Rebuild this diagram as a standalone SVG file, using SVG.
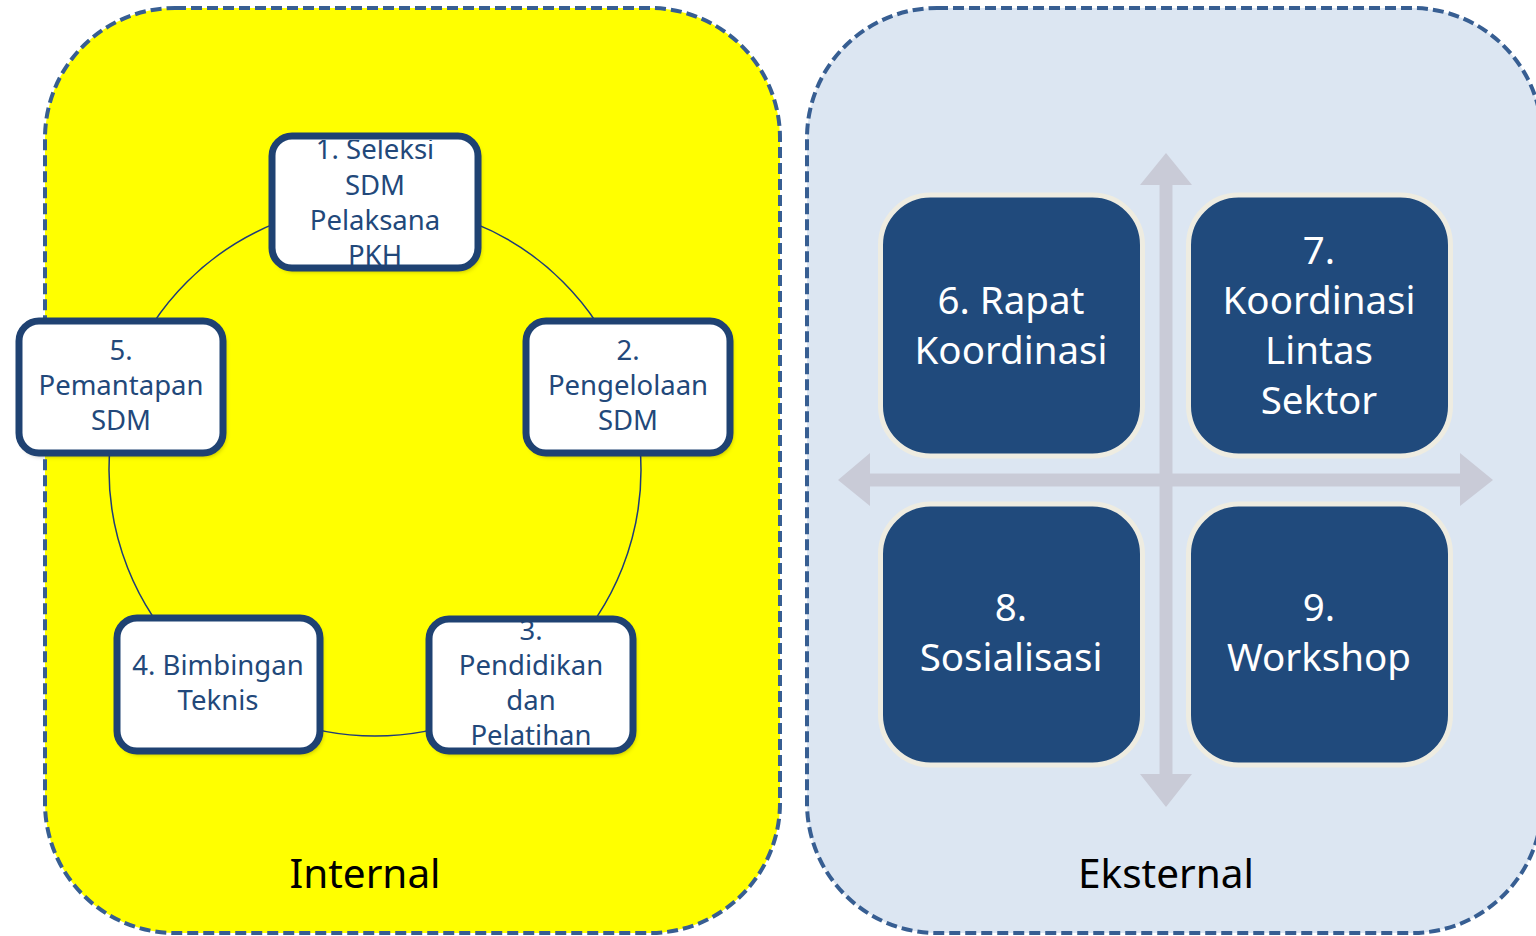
<svg xmlns="http://www.w3.org/2000/svg" width="1536" height="936" viewBox="0 0 1536 936">
  <defs>
    <filter id="shadow" x="-10%" y="-10%" width="125%" height="125%">
      <feDropShadow dx="2" dy="3" stdDeviation="2.5" flood-color="#000" flood-opacity="0.35"/>
    </filter>
    <clipPath id="c1"><rect x="275" y="140" width="200" height="128" rx="16"/></clipPath>
    <clipPath id="c3"><rect x="429" y="619" width="204" height="132" rx="16"/></clipPath>
  </defs>
  <style>
    .panel { stroke: #375E92; stroke-width: 4; stroke-dasharray: 11 5; }
    .node-bg { fill: #FFFFFF; }
    .node-border { fill: none; stroke: #1F4272; stroke-width: 7; }
    .ntext { font-family: "Noto Sans", "Open Sans", sans-serif; font-size: 27.5px; fill: #22487A; text-anchor: middle; }
    .sq { fill: #204A7C; stroke: #EEECE1; stroke-width: 5; }
    .stext { font-family: "Noto Sans", "Open Sans", sans-serif; font-size: 38.5px; fill: #FFFFFF; text-anchor: middle; }
    .label { font-family: "Noto Sans", "Open Sans", sans-serif; font-size: 40.5px; fill: #000000; text-anchor: middle; }
    .arrow { fill: #C9CBD7; }
  </style>

  <rect width="1536" height="936" fill="#FFFFFF"/>

  <g id="panel-internal">
    <rect class="panel" x="45" y="8" width="735" height="925" rx="130" fill="#FFFF00"/>
    <text class="label" x="365" y="888">Internal</text>
  </g>
  <g id="panel-eksternal">
    <rect class="panel" x="807" y="8" width="735" height="925" rx="130" fill="#DCE6F2"/>
    <text class="label" x="1166" y="888">Eksternal</text>
  </g>

  <g id="connectors">
    <circle cx="375" cy="470" r="266" fill="none" stroke="#1F3C78" stroke-width="1.5"/>
    <path class="arrow" d="M1166 153 L1192 185 L1172.5 185 L1172.5 774 L1192 774 L1166 807 L1140 774 L1159.5 774 L1159.5 185 L1140 185 Z"/>
    <path class="arrow" d="M838 480 L870 453 L870 473.5 L1460 473.5 L1460 453 L1493 480 L1460 506 L1460 486.5 L870 486.5 L870 506 Z"/>
  </g>

  <g id="node1">
    <rect class="node-bg" x="272" y="136" width="206" height="132" rx="20" filter="url(#shadow)"/>
    <g clip-path="url(#c1)">
      <text class="ntext" x="375" y="159">1. Seleksi</text>
      <text class="ntext" x="375" y="195">SDM</text>
      <text class="ntext" x="375" y="230">Pelaksana</text>
      <text class="ntext" x="375" y="265">PKH</text>
    </g>
    <rect class="node-border" x="272" y="136" width="206" height="132" rx="20"/>
  </g>

  <g id="node2">
    <rect class="node-bg" x="526" y="321" width="204" height="132" rx="20" filter="url(#shadow)"/>
    <text class="ntext" x="628" y="360">2.</text>
    <text class="ntext" x="628" y="395">Pengelolaan</text>
    <text class="ntext" x="628" y="430">SDM</text>
    <rect class="node-border" x="526" y="321" width="204" height="132" rx="20"/>
  </g>

  <g id="node3">
    <rect class="node-bg" x="429" y="619" width="204" height="132" rx="20" filter="url(#shadow)"/>
    <g clip-path="url(#c3)">
      <text class="ntext" x="531" y="640">3.</text>
      <text class="ntext" x="531" y="675">Pendidikan</text>
      <text class="ntext" x="531" y="710">dan</text>
      <text class="ntext" x="531" y="745">Pelatihan</text>
    </g>
    <rect class="node-border" x="429" y="619" width="204" height="132" rx="20"/>
  </g>

  <g id="node4">
    <rect class="node-bg" x="117" y="618" width="203" height="133" rx="20" filter="url(#shadow)"/>
    <text class="ntext" x="218" y="675">4. Bimbingan</text>
    <text class="ntext" x="218" y="710">Teknis</text>
    <rect class="node-border" x="117" y="618" width="203" height="133" rx="20"/>
  </g>

  <g id="node5">
    <rect class="node-bg" x="19" y="321" width="204" height="132" rx="20" filter="url(#shadow)"/>
    <text class="ntext" x="121" y="360">5.</text>
    <text class="ntext" x="121" y="395">Pemantapan</text>
    <text class="ntext" x="121" y="430">SDM</text>
    <rect class="node-border" x="19" y="321" width="204" height="132" rx="20"/>
  </g>

  <g id="node6">
    <rect class="sq" x="880.5" y="195" width="262" height="261" rx="50"/>
    <text class="stext" x="1011" y="314">6. Rapat</text>
    <text class="stext" x="1011" y="364">Koordinasi</text>
  </g>
  <g id="node7">
    <rect class="sq" x="1188.5" y="195" width="262" height="261" rx="50"/>
    <text class="stext" x="1319" y="264">7.</text>
    <text class="stext" x="1319" y="314">Koordinasi</text>
    <text class="stext" x="1319" y="364">Lintas</text>
    <text class="stext" x="1319" y="414">Sektor</text>
  </g>
  <g id="node8">
    <rect class="sq" x="880.5" y="504" width="262" height="261" rx="50"/>
    <text class="stext" x="1011" y="621">8.</text>
    <text class="stext" x="1011" y="671">Sosialisasi</text>
  </g>
  <g id="node9">
    <rect class="sq" x="1188.5" y="504" width="262" height="261" rx="50"/>
    <text class="stext" x="1319" y="621">9.</text>
    <text class="stext" x="1319" y="671">Workshop</text>
  </g>
</svg>
